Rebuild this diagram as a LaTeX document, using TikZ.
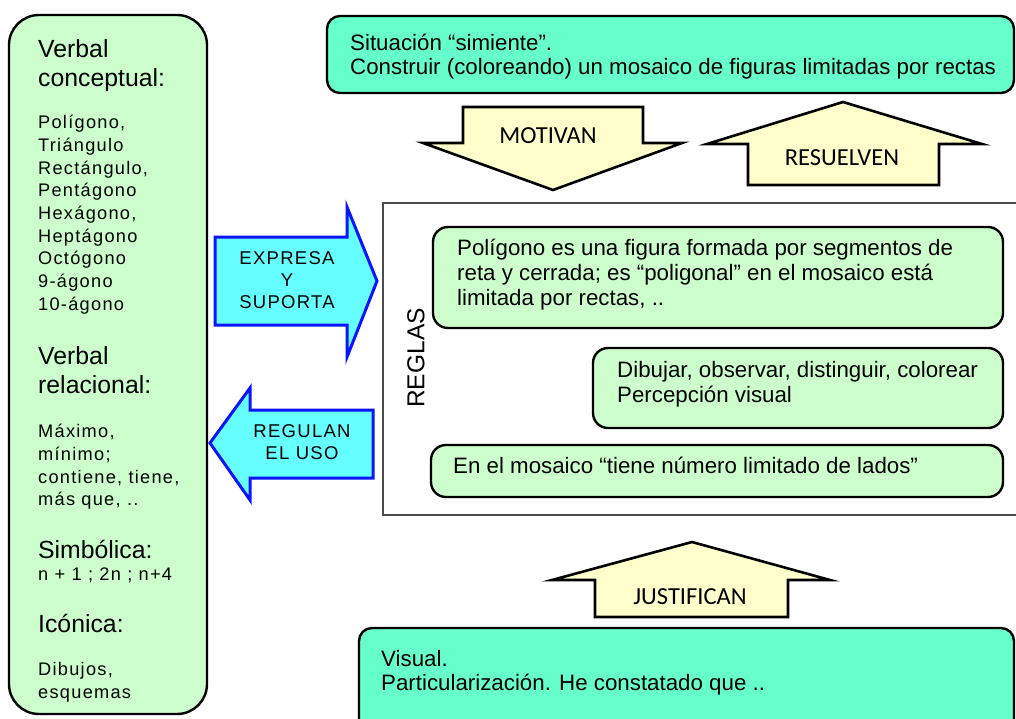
\documentclass[tikz,border=0pt]{standalone}
\usepackage{fontspec}
\setmainfont{Liberation Sans}
\newfontfamily\calfont{Carlito}
\newfontfamily\spacedfont[LetterSpace=7]{Liberation Sans}
\definecolor{lgreen}{HTML}{CCFFCC}
\definecolor{aqua}{HTML}{66FFCC}
\definecolor{lyellow}{HTML}{FFFFCC}
\definecolor{lcyan}{HTML}{66FFFF}
\definecolor{bblue}{HTML}{0A14FF}
\begin{document}
\begin{tikzpicture}[x=1pt,y=-1pt,
  outerbox/.style={draw=black,line width=2.4pt,fill=lgreen,rounded corners=30pt},
  aquabox/.style={draw=black,line width=2.4pt,fill=aqua,rounded corners=13pt},
  rulebox/.style={draw=black,line width=2.4pt,fill=lgreen,rounded corners=15pt},
  framebox/.style={draw=black!70,line width=1.3pt},
  yarrow/.style={draw=black,line width=2.6pt,fill=lyellow,line join=miter,miter limit=20},
  barrow/.style={draw=bblue,line width=3pt,fill=lcyan,line join=miter,miter limit=20},
  txt/.style={inner sep=0pt,anchor=north west,align=left,font=\fontsize{22.3}{24}\selectfont},
  bigtxt/.style={inner sep=0pt,anchor=north west,align=left,font=\fontsize{24.8}{29}\selectfont},
  listtxt/.style={inner sep=0pt,anchor=north west,align=left,font=\spacedfont\fontsize{18.2}{22.7}\selectfont},
  blbl/.style={inner sep=0pt,align=center,font=\spacedfont\fontsize{18.5}{22}\selectfont},
  ylbl/.style={inner sep=0pt,font=\calfont\fontsize{24.5}{26}\selectfont}
]
\clip (0,0) rectangle (1016,718);
\fill[white] (0,0) rectangle (1016,718);

% left box
\path[outerbox] (9,15) rectangle (207,714);
\node[bigtxt] (vc) at (38,39) {Verbal\\conceptual:};
\node[listtxt] (poly) at (38,115) {Polígono,\\Triángulo\\Rectángulo,\\Pentágono\\Hexágono,\\Heptágono\\Octógono\\9-ágono\\10-ágono};
\node[bigtxt] (vr) at (38,346) {Verbal\\relacional:};
\node[listtxt] (rel) at (38,424) {Máximo,\\mínimo;\\contiene, tiene,\\más que, ..};
\node[bigtxt] (simb) at (38,540) {Simbólica:};
\node[listtxt] (expr) at (38,568) {n + 1 ; 2n ; n+4};
\node[bigtxt] (icon) at (38,614) {Icónica:};
\node[listtxt] (dib) at (38,662) {Dibujos,\\esquemas};

% top box
\path[aquabox] (327,16) rectangle (1014,93);
\node[txt] (sit) at (350,34) {Situación “simiente”.\\Construir (coloreando) un mosaico de figuras limitadas por rectas};

% yellow arrows
\path[yarrow] (463,107) -- (643,107) -- (643,143) -- (682,143) -- (553,190) -- (423,143) -- (463,143) -- cycle;
\node[ylbl] (motivan) at (548,136) {MOTIVAN};
\path[yarrow] (748,185) -- (748,144) -- (707,144) -- (843,102) -- (982,144) -- (939,144) -- (939,185) -- cycle;
\node[ylbl] (resuelven) at (842,158) {RESUELVEN};

% rules frame
\path[framebox] (383,203) rectangle (1040,515);
\node[inner sep=0pt,rotate=90,font=\fontsize{24.5}{26}\selectfont] (reglas) at (416,358) {REGLAS};

\path[rulebox] (433,227) rectangle (1003,328);
\node[txt,font=\fontsize{22.3}{25}\selectfont] (r1) at (457,239) {Polígono es una figura formada por segmentos de\\reta y cerrada; es “poligonal” en el mosaico está\\limitada por rectas, ..};
\path[rulebox] (593,348) rectangle (1003,428);
\node[txt,font=\fontsize{22.3}{25}\selectfont] (r2) at (617,361) {Dibujar, observar, distinguir, colorear\\Percepción visual};
\path[rulebox] (431,445) rectangle (1003,497);
\node[txt] (r3) at (453,457) {En el mosaico “tiene número limitado de lados”};

% blue arrows
\path[barrow] (215,237) -- (347,237) -- (347,207) -- (377,281) -- (347,357) -- (347,325) -- (215,325) -- cycle;
\node[blbl] (expresa) at (287,280) {EXPRESA\\Y\\SUPORTA};
\path[barrow] (373,410) -- (250,410) -- (250,388) -- (210,443) -- (250,500) -- (250,478) -- (373,478) -- cycle;
\node[blbl] (regulan) at (302,442) {REGULAN\\EL USO};

% justifican
\path[yarrow] (595,617) -- (595,580) -- (552,580) -- (692,542) -- (830,580) -- (788,580) -- (788,617) -- cycle;
\node[ylbl] (justifican) at (690,597) {JUSTIFICAN};

% bottom box
\path[aquabox] (359,628) rectangle (1014,745);
\node[txt] (vis) at (381,650) {Visual.\\Particularización. He constatado que ..};
\end{tikzpicture}
\end{document}
